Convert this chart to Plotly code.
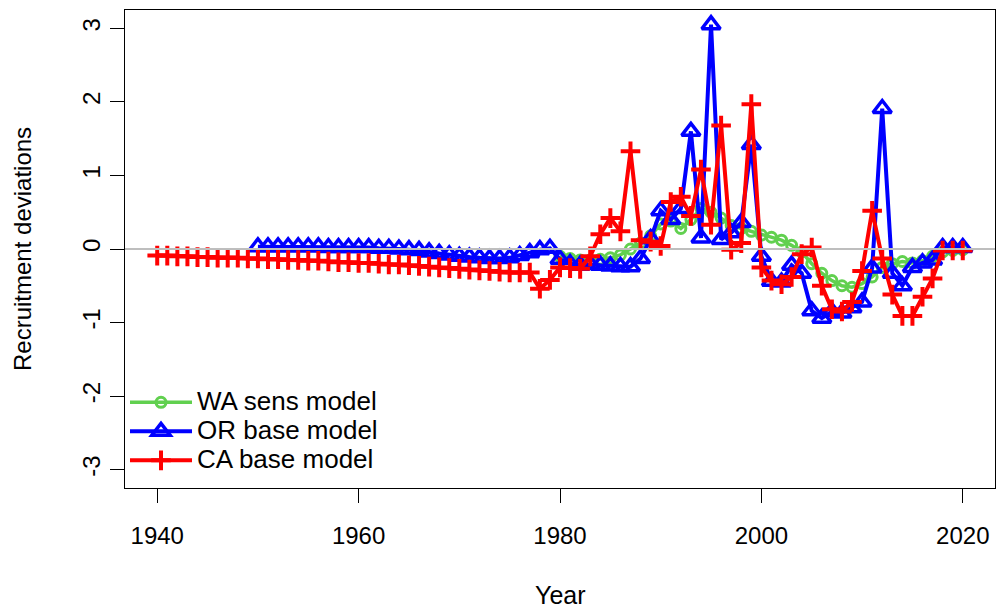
import plotly.graph_objects as go

# ---------------- data ----------------
ca_years = list(range(1940, 2021))
ca_dev = [-0.09, -0.09, -0.10, -0.10, -0.11, -0.11, -0.12, -0.12, -0.12, -0.13,
          -0.13, -0.14, -0.14, -0.15, -0.15, -0.16, -0.16, -0.17, -0.18, -0.18,
          -0.19, -0.19, -0.20, -0.21, -0.21, -0.22, -0.23, -0.24, -0.25, -0.26,
          -0.27, -0.28, -0.29, -0.30, -0.31, -0.32, -0.32, -0.32, -0.54, -0.42,
          -0.25, -0.26, -0.27, -0.10, 0.20, 0.42, 0.24, 1.33, 0.12, 0.10,
          0.04, 0.64, 0.71, 0.45, 1.08, 0.33, 1.68, -0.01, 0.08, 1.97,
          -0.25, -0.43, -0.48, -0.38, -0.07, 0.02, -0.50, -0.82, -0.85, -0.72,
          -0.30, 0.52, -0.13, -0.62, -0.91, -0.91, -0.65, -0.40, -0.02, -0.02,
          -0.02]

or_years = list(range(1950, 2021))
or_dev = [0.03, 0.03, 0.03, 0.03, 0.03, 0.03, 0.03, 0.02, 0.02, 0.02,
          0.02, 0.02, 0.01, 0.01, 0.00, -0.01, -0.02, -0.04, -0.06, -0.08,
          -0.10, -0.11, -0.12, -0.13, -0.13, -0.12, -0.09, -0.05, -0.01, 0.01,
          -0.14, -0.20, -0.22, -0.21, -0.22, -0.23, -0.24, -0.24, -0.13, 0.14,
          0.52, 0.40, 0.55, 1.60, 0.15, 3.05, 0.13, 0.22, 0.36, 1.42,
          -0.10, -0.44, -0.45, -0.22, -0.33, -0.84, -0.94, -0.85, -0.87, -0.80,
          -0.72, -0.26, 1.91, -0.33, -0.50, -0.25, -0.19, -0.15, 0.02, 0.02,
          0.02]

wa_years = list(range(1980, 2021))
wa_dev = [-0.10, -0.13, -0.15, -0.15, -0.14, -0.12, -0.08, 0.00, 0.08, 0.18,
          0.34, 0.38, 0.28, 0.40, 0.55, 0.50, 0.42, 0.32, 0.28, 0.24,
          0.19, 0.16, 0.12, 0.05, -0.04, -0.20, -0.33, -0.43, -0.50, -0.52,
          -0.47, -0.38, -0.25, -0.20, -0.17, -0.19, -0.16, -0.10, -0.04, -0.02,
          -0.01]

x_ticks = [1940, 1960, 1980, 2000, 2020]
x_tick_labels = ["1940", "1960", "1980", "2000", "2020"]
y_ticks = [-3, -2, -1, 0, 1, 2, 3]
y_tick_labels = ["-3", "-2", "-1", "0", "1", "2", "3"]

# ---------------- figure ----------------
FONT = "Liberation Sans, Arial, sans-serif"


def legend_name(s):
    return "<span style='font-size:26px'>" + s + "</span>"


fig = go.Figure()

fig.add_trace(go.Scatter(
    x=wa_years, y=wa_dev, name=legend_name("WA sens model"), mode="lines+markers",
    line=dict(color="#61D04F", width=3.5),
    marker=dict(symbol="circle-open", size=10, color="#61D04F",
                line=dict(width=3, color="#61D04F"))))

fig.add_trace(go.Scatter(
    x=or_years, y=or_dev, name=legend_name("OR base model"), mode="lines+markers",
    line=dict(color="#0000FF", width=4),
    marker=dict(symbol="triangle-up-open", size=16, color="#0000FF",
                line=dict(width=3.5, color="#0000FF"))))

fig.add_trace(go.Scatter(
    x=ca_years, y=ca_dev, name=legend_name("CA base model"), mode="lines+markers",
    line=dict(color="#FF0000", width=4),
    marker=dict(symbol="cross-thin-open", size=14, color="#FF0000",
                line=dict(width=4, color="#FF0000"))))

fig.add_shape(type="line", xref="paper", x0=0, x1=1, yref="y", y0=0, y1=0,
              line=dict(color="#BEBEBE", width=2), layer="above")

fig.update_layout(
    width=996, height=611,
    margin=dict(l=125, r=1, t=10, b=123),
    paper_bgcolor="white", plot_bgcolor="white",
    font=dict(family=FONT, size=24, color="black"),
    showlegend=True,
    legend=dict(x=0.0, y=0.017, xanchor="left", yanchor="bottom",
                bgcolor="rgba(0,0,0,0)", borderwidth=0,
                font=dict(size=20, family=FONT), tracegroupgap=0,
                itemwidth=62),
    xaxis=dict(range=[1936.8, 2023.2], tickvals=x_ticks, ticktext=x_tick_labels,
               ticks="outside", ticklen=14, tickwidth=1, tickcolor="black",
               showline=True, linecolor="black", linewidth=1, mirror=True,
               showgrid=False, zeroline=False, automargin=False,
               ticklabelstandoff=12,
               tickfont=dict(size=24, family=FONT)),
    yaxis=dict(range=[-3.25, 3.25], tickvals=y_ticks, ticktext=y_tick_labels,
               ticks="outside", ticklen=14, tickwidth=1, tickcolor="black",
               showline=True, linecolor="black", linewidth=1, mirror=True,
               showgrid=False, zeroline=False, tickangle=-90, automargin=False,
               ticklabelstandoff=0,
               tickfont=dict(size=24, family=FONT)),
    annotations=[
        dict(text="Year", xref="paper", yref="paper", x=0.5, y=-0.2238,
             xanchor="center", yanchor="middle", showarrow=False,
             font=dict(size=25, family=FONT)),
        dict(text="Recruitment deviations", xref="paper", yref="paper",
             x=-0.1184, y=0.5, xanchor="center", yanchor="middle",
             textangle=-90, showarrow=False,
             font=dict(size=24, family=FONT)),
    ],
)

fig.write_html("out.html", config={"displayModeBar": False},
               post_script="document.body.style.margin='0';")
